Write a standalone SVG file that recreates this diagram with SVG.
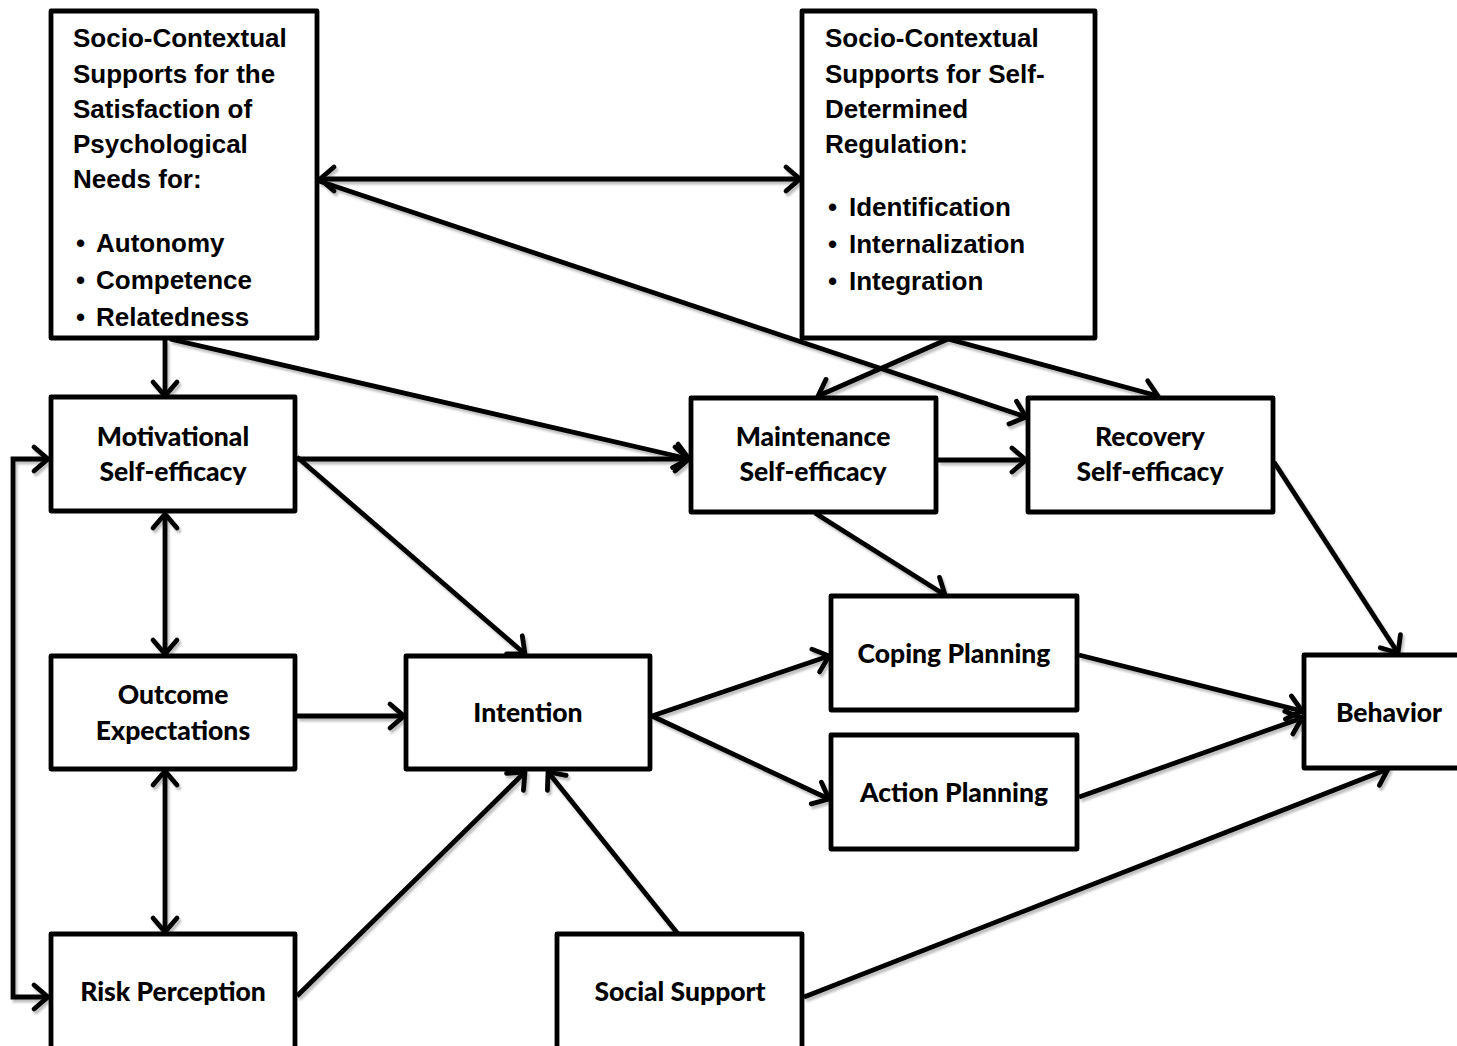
<svg xmlns="http://www.w3.org/2000/svg" width="1457" height="1046" viewBox="0 0 1457 1046">
<style>
.box{fill:#fff;stroke:#000;stroke-width:4.8;stroke-linejoin:round}
.lbl{font-family:Lato,"Liberation Sans",sans-serif;font-weight:900;font-size:26.5px;fill:#000;text-anchor:middle}
.top{font-family:"Liberation Sans",Arial,sans-serif;font-weight:bold;font-size:26px;fill:#000}
.c{fill:none;stroke:#000;stroke-width:4.8;marker-end:url(#ah)}
.d{fill:none;stroke:#000;stroke-width:4.8;marker-start:url(#ah);marker-end:url(#ah)}
</style>
<defs>
<marker id="ah" markerUnits="userSpaceOnUse" markerWidth="30" markerHeight="30" viewBox="-20 -15 25 30" refX="0" refY="0" orient="auto-start-reverse" overflow="visible">
<path d="M-14,-12 L0,0 L-14,12" fill="none" stroke="#000" stroke-width="4.8" stroke-linecap="round" stroke-linejoin="round"/>
</marker>
<filter id="sh" x="-5%" y="-5%" width="110%" height="110%">
<feDropShadow dx="2" dy="3" stdDeviation="1.2" flood-color="#000" flood-opacity="0.25"/>
</filter>
</defs>
<g id="connectors" filter="url(#sh)">
<line class="d" x1="320" y1="179" x2="800" y2="179"/>
<line class="c" x1="165" y1="339" x2="165" y2="396"/>
<line class="c" x1="170" y1="339" x2="689" y2="459"/>
<line class="c" x1="319" y1="181" x2="1026" y2="417"/>
<line class="c" x1="948" y1="339" x2="818" y2="396"/>
<line class="c" x1="948" y1="339" x2="1158" y2="396"/>
<line class="c" x1="297" y1="459" x2="689" y2="459"/>
<line class="c" x1="938" y1="460" x2="1026" y2="460"/>
<line class="c" x1="297" y1="457" x2="525" y2="654"/>
<line class="c" x1="815" y1="513" x2="945" y2="595"/>
<line class="c" x1="1274" y1="462" x2="1398" y2="653"/>
<line class="d" x1="165" y1="514" x2="165" y2="654"/>
<line class="d" x1="165" y1="771" x2="165" y2="932"/>
<line class="c" x1="297" y1="716" x2="404" y2="716"/>
<line class="c" x1="297" y1="996" x2="525" y2="772"/>
<line class="c" x1="678" y1="934" x2="548" y2="772"/>
<line class="c" x1="652" y1="716" x2="829" y2="656"/>
<line class="c" x1="652" y1="716" x2="829" y2="799"/>
<line class="c" x1="1079" y1="655" x2="1302" y2="711"/>
<line class="c" x1="1079" y1="797" x2="1302" y2="718"/>
<line class="c" x1="804" y1="997" x2="1388" y2="769"/>
<path class="d" d="M48,459 L13,459 L13,997 L48,997"/>
</g>
<g id="n-supports-needs">
<rect class="box" x="51" y="11" width="266" height="327"/>
<text class="top" x="73" y="47">Socio-Contextual</text>
<text class="top" x="73" y="82.5">Supports for the</text>
<text class="top" x="73" y="118">Satisfaction of</text>
<text class="top" x="73" y="153">Psychological</text>
<text class="top" x="73" y="188">Needs for:</text>
<text class="top" x="76" y="252">• <tspan x="96">Autonomy</tspan></text>
<text class="top" x="76" y="289">• <tspan x="96">Competence</tspan></text>
<text class="top" x="76" y="326">• <tspan x="96">Relatedness</tspan></text>
</g>
<g id="n-supports-regulation">
<rect class="box" x="802" y="11" width="293" height="327"/>
<text class="top" x="825" y="47">Socio-Contextual</text>
<text class="top" x="825" y="82.5">Supports for Self-</text>
<text class="top" x="825" y="118">Determined</text>
<text class="top" x="825" y="153">Regulation:</text>
<text class="top" x="828" y="216">• <tspan x="849">Identification</tspan></text>
<text class="top" x="828" y="253">• <tspan x="849">Internalization</tspan></text>
<text class="top" x="828" y="290">• <tspan x="849">Integration</tspan></text>
</g>
<g id="n-motivational">
<rect class="box" x="51" y="397" width="244" height="114"/>
<text class="lbl" x="173" y="446">Motivational</text>
<text class="lbl" x="173" y="481">Self-efficacy</text>
</g>
<g id="n-maintenance">
<rect class="box" x="691" y="398" width="245" height="114"/>
<text class="lbl" x="813" y="446">Maintenance</text>
<text class="lbl" x="813" y="481">Self-efficacy</text>
</g>
<g id="n-recovery">
<rect class="box" x="1028" y="398" width="245" height="114"/>
<text class="lbl" x="1150" y="446">Recovery</text>
<text class="lbl" x="1150" y="481">Self-efficacy</text>
</g>
<g id="n-outcome">
<rect class="box" x="51" y="656" width="244" height="113"/>
<text class="lbl" x="173" y="704">Outcome</text>
<text class="lbl" x="173" y="740">Expectations</text>
</g>
<g id="n-intention">
<rect class="box" x="406" y="656" width="244" height="113"/>
<text class="lbl" x="528" y="722">Intention</text>
</g>
<g id="n-coping">
<rect class="box" x="831" y="596" width="246" height="114"/>
<text class="lbl" x="954" y="663">Coping Planning</text>
</g>
<g id="n-action">
<rect class="box" x="831" y="735" width="246" height="114"/>
<text class="lbl" x="954" y="802">Action Planning</text>
</g>
<g id="n-behavior">
<rect class="box" x="1304" y="655" width="200" height="113"/>
<text class="lbl" x="1389" y="722">Behavior</text>
</g>
<g id="n-risk">
<rect class="box" x="51" y="934" width="244" height="130"/>
<text class="lbl" x="173" y="1001">Risk Perception</text>
</g>
<g id="n-social">
<rect class="box" x="557" y="934" width="245" height="130"/>
<text class="lbl" x="680" y="1001">Social Support</text>
</g>
</svg>
